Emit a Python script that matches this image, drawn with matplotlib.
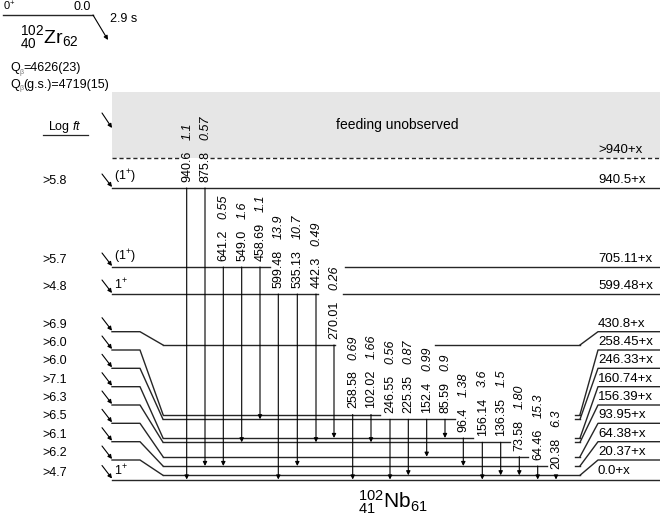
import matplotlib
matplotlib.use('Agg')
import matplotlib.pyplot as plt
from matplotlib.patches import Rectangle

plt.rcParams['font.family'] = ['Liberation Sans', 'DejaVu Sans']
plt.rcParams['mathtext.fontset'] = 'custom'
plt.rcParams['mathtext.rm'] = 'Liberation Sans'
plt.rcParams['mathtext.it'] = 'Liberation Sans:italic'
plt.rcParams['mathtext.bf'] = 'Liberation Sans:bold'

# levels in 102Nb, top to bottom
level_names = ['>940+x', '940.5+x', '705.11+x', '599.48+x', '430.8+x', '258.45+x', '246.33+x',
               '160.74+x', '156.39+x', '93.95+x', '64.38+x', '20.37+x', '0.0+x']
level_logft = ['', '>5.8', '>5.7', '>4.8', '>6.9', '>6.0', '>6.0', '>7.1', '>6.3', '>6.5',
               '>6.1', '>6.2', '>4.7']
level_spin = ['', '(1$^{+}$)', '(1$^{+}$)', '1$^{+}$', '', '', '', '', '', '', '', '', '1$^{+}$']

# gamma rays: energy, intensity, initial level, final level (indices into the lists above)
gamma_e = ['940.6', '875.8', '641.2', '549.0', '458.69', '599.48', '535.13', '442.3', '270.01',
           '258.58', '102.02', '246.55', '225.35', '152.4', '85.59', '96.4', '156.14', '136.35',
           '73.58', '64.46', '20.38']
gamma_i = ['1.1', '0.57', '0.55', '1.6', '1.1', '13.9', '10.7', '0.49', '0.26', '0.69', '1.66',
           '0.56', '0.87', '0.99', '0.9', '1.38', '3.6', '1.5', '1.80', '15.3', '6.3']
gamma_from = [1, 1, 2, 2, 2, 3, 3, 3, 4, 5, 5, 6, 6, 6, 6, 7, 8, 8, 9, 10, 11]
gamma_to = [12, 10, 10, 8, 6, 12, 10, 8, 7, 12, 8, 12, 11, 9, 7, 10, 12, 11, 11, 12, 12]

# drawing layout, in pixels
label_y = [158, 188, 267, 294, 331.7, 350, 368.3, 386.7, 405, 423.3, 441.7, 460, 479.5]
mid_y = [158, 188, 267, 294, 345, 414.5, 419.3, 438, 442.3, 456.7, 466, 475.3, 479.5]
gaps = {0: [(180, 210)], 2: [(270, 345)], 3: [(318, 343)], 4: [(335, 435)], 5: [(380, 575)],
        6: [(455, 575)], 7: [(473, 575)], 8: [(510, 575)], 9: [(528, 575)], 10: [(547, 575)]}
gamma_x = [186.7, 205, 223.3, 241.7, 260, 278.3, 297.3, 316, 334, 352.7, 371, 390, 408.3,
           426.7, 445, 463.3, 482.3, 500.7, 519.3, 537.7, 556]

FS = 9
LC = '0.15'

fig = plt.figure(figsize=(6.6, 5.16), dpi=100)
ax = fig.add_axes([0, 0, 1, 1])
ax.set_xlim(0, 660)
ax.set_ylim(516, 0)
ax.axis('off')


def arrow(x0, y0, x1, y1, lw=0.8, ms=6):
    ax.annotate('', xy=(x1, y1), xytext=(x0, y0),
                arrowprops=dict(arrowstyle='-|>', lw=lw, color='k', shrinkA=0, shrinkB=0,
                                mutation_scale=ms))


# parent
ax.plot([3, 93], [15, 15], color=LC, lw=1.0)
ax.text(3, 13, '0$^{+}$', fontsize=FS - 1, va='bottom')
ax.text(91, 13, '0.0', fontsize=FS, va='bottom', ha='right')
arrow(93, 15, 108, 40)
ax.text(110, 19, '2.9 s', fontsize=FS, va='center')
ax.text(20, 38, r'${}^{102}_{40}\mathrm{Zr}_{62}$', fontsize=14, va='center')
for y, rest in [(68, '=4626(23)'), (85, '(g.s.)=4719(15)')]:
    ax.text(10, y, 'Q', fontsize=FS, va='center')
    ax.text(19.5, y + 4, 'β', fontsize=5, va='center', color='0.45')
    ax.text(23, y, rest, fontsize=FS, va='center')

# unobserved feeding region
ax.add_patch(Rectangle((112, 92), 548, 66, facecolor='#e6e6e6', edgecolor='none', zorder=0))
ax.text(397, 125, 'feeding unobserved', fontsize=10, ha='center', va='center')
arrow(102, 113, 112, 128)
ax.text(48, 127, r'Log $\mathit{ft}$', fontsize=FS, va='center')
ax.plot([43, 88], [135, 135], color=LC, lw=0.9)

# levels
for i, name in enumerate(level_names):
    ly, my = label_y[i], mid_y[i]
    ls = (0, (3, 2)) if i == 0 else '-'
    if ly != my:
        ax.plot([112, 140, 163], [ly, ly, my], color=LC, lw=1.0)
        ax.plot([580, 598, 660], [my, ly, ly], color=LC, lw=1.0)
        x0, x1 = 163, 580
    else:
        x0, x1 = 112, 660
    cuts = [x0]
    for a, b in gaps.get(i, []):
        cuts += [a, b]
    cuts.append(x1)
    for a, b in zip(cuts[::2], cuts[1::2]):
        ax.plot([a, b], [my, my], color=LC, lw=1.0, ls=ls)
    ax.text(598, ly - 2, name, fontsize=9.5, va='bottom')
    if level_logft[i]:
        ax.text(42, ly - 7, level_logft[i], fontsize=FS, va='center')
        arrow(102, ly - 14, 112, ly - 1)
    if level_spin[i]:
        ax.text(114, ly - 1.5, level_spin[i], fontsize=FS, va='bottom')

# gamma transitions
for e, inten, fi, ti, x in zip(gamma_e, gamma_i, gamma_from, gamma_to, gamma_x):
    arrow(x, mid_y[fi], x, mid_y[ti], lw=0.8, ms=6)
    t = ax.text(x + 0.5, mid_y[fi] - 6, e, fontsize=9,
                rotation=90, rotation_mode='anchor', ha='left', va='center')
    ax.annotate(inten, xy=(0.5, 1), xycoords=t, xytext=(0, 8), textcoords='offset points',
                fontsize=9, style='italic', rotation=90, rotation_mode='anchor',
                ha='left', va='center')

ax.text(393, 502, r'${}^{102}_{41}\mathrm{Nb}_{61}$', fontsize=15, ha='center', va='center')

fig.savefig('out.png', dpi=100)
